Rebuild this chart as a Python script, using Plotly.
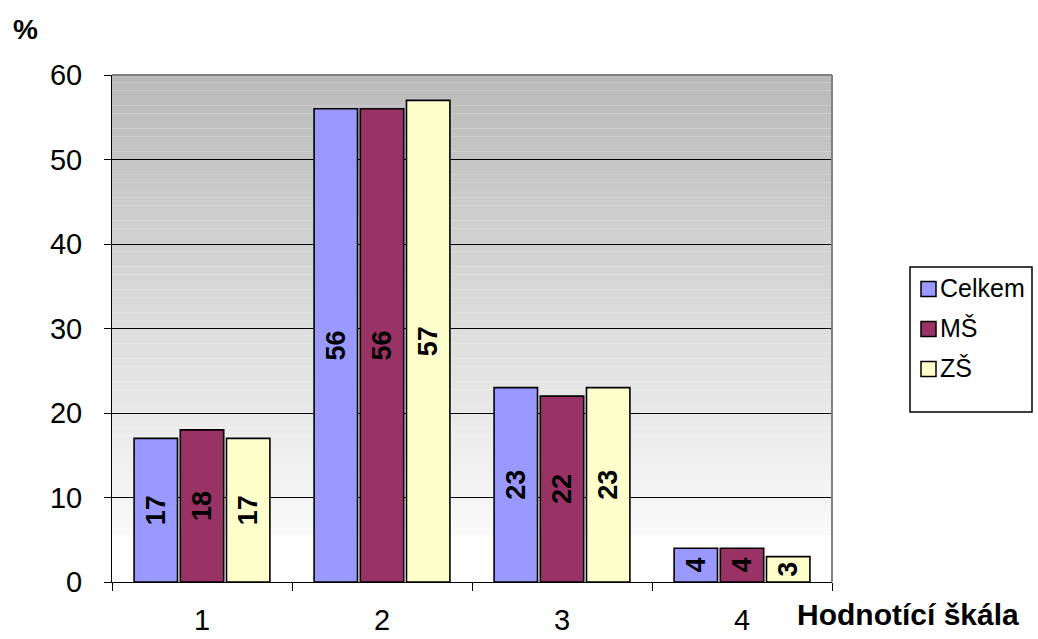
import plotly.graph_objects as go

# Rating scale categories and percentage per group
categories = ["1", "2", "3", "4"]
celkem = [17, 56, 23, 4]
ms = [18, 56, 22, 4]
zs = [17, 57, 23, 3]

series_names = ["Celkem", "MŠ", "ZŠ"]
series_values = [celkem, ms, zs]
series_colors = ["#9999ff", "#993366", "#ffffcc"]

font_main = "Arial, Liberation Sans, sans-serif"

fig = go.Figure()
for name, vals, color in zip(series_names, series_values, series_colors):
    fig.add_trace(go.Bar(
        name=name,
        x=categories,
        y=vals,
        marker=dict(color=color, line=dict(color="black", width=1.6)),
        text=[str(v) for v in vals],
        textposition="inside",
        insidetextanchor="middle",
        textangle=-90,
        constraintext="none",
        textfont=dict(family=font_main, size=27, color="black", weight="bold"),
        showlegend=False,
    ))

# Plot-area pixel geometry used to place paper-referenced decorations
PL, PR, PT, PB = 112, 832, 75, 582


def px_x(px):
    return (px - PL) / (PR - PL)


def px_y(py):
    return (PB - py) / (PB - PT)


# Vertical gray-to-white gradient behind the plot area
shapes = []
n_strips = 60
g_top, g_bottom = px_y(535), 1.0
for i in range(n_strips):
    y1 = g_bottom - (g_bottom - g_top) * i / n_strips
    y0 = g_bottom - (g_bottom - g_top) * (i + 1) / n_strips
    t = (i + 0.5) / n_strips
    g = int(round(186 + (250 - 186) * t))
    shapes.append(dict(type="rect", xref="paper", yref="paper",
                       x0=0, x1=1, y0=y0, y1=y1, layer="below",
                       line=dict(width=0),
                       fillcolor=f"rgb({g},{g},{g})"))
# Gray frame on the top and right edges of the plot area
shapes.append(dict(type="line", xref="paper", yref="paper",
                   x0=0, x1=1, y0=1, y1=1,
                   line=dict(color="#808080", width=2)))
shapes.append(dict(type="line", xref="paper", yref="paper",
                   x0=1, x1=1, y0=0, y1=1,
                   line=dict(color="#808080", width=2)))

# Legend box with colour keys
annotations = []
shapes.append(dict(type="rect", xref="paper", yref="paper",
                   x0=px_x(910), x1=px_x(1032), y0=px_y(412), y1=px_y(267),
                   fillcolor="white", line=dict(color="black", width=1.5)))
for k, (name, color) in enumerate(zip(series_names, series_colors)):
    cy = 289 + 40 * k
    shapes.append(dict(type="rect", xref="paper", yref="paper",
                       x0=px_x(921), x1=px_x(936),
                       y0=px_y(cy + 7.5), y1=px_y(cy - 7.5),
                       fillcolor=color, line=dict(color="black", width=1.5)))
    annotations.append(dict(text=name, xref="paper", yref="paper",
                            x=px_x(938), y=px_y(cy - 1), xanchor="left",
                            yanchor="middle", showarrow=False,
                            font=dict(size=25, family=font_main)))

annotations += [
    dict(text="<b>%</b>", xref="paper", yref="paper",
         x=px_x(25), y=px_y(30), xanchor="center", yanchor="middle",
         showarrow=False, font=dict(size=28, family=font_main)),
    dict(text="<b>Hodnotící škála</b>", xref="paper", yref="paper",
         x=px_x(1021), y=px_y(614), xanchor="right", yanchor="middle",
         showarrow=False, font=dict(size=30, family=font_main)),
]

fig.update_layout(
    width=1038, height=639,
    margin=dict(l=PL, r=1038 - PR, t=PT, b=639 - PB, autoexpand=False),
    paper_bgcolor="white",
    plot_bgcolor="white",
    barmode="group",
    bargap=0.23,
    bargroupgap=0.06,
    shapes=shapes,
    annotations=annotations,
    font=dict(family=font_main, color="black"),
    showlegend=False,
    xaxis=dict(
        type="category",
        automargin=False,
        tickson="boundaries",
        ticks="outside", ticklen=8, tickcolor="black", tickwidth=1,
        showline=True, linecolor="black", linewidth=1,
        showgrid=False,
        ticklabelstandoff=12,
        tickfont=dict(size=29, family=font_main),
    ),
    yaxis=dict(
        range=[0, 60],
        automargin=False,
        tickvals=[0, 10, 20, 30, 40, 50, 60],
        ticks="outside", ticklen=7, tickcolor="black", tickwidth=1,
        showline=True, linecolor="black", linewidth=1,
        showgrid=True, gridcolor="black", gridwidth=1,
        zeroline=False,
        ticklabelstandoff=16,
        tickfont=dict(size=29, family=font_main),
    ),
)

fig.write_html("out.html")
